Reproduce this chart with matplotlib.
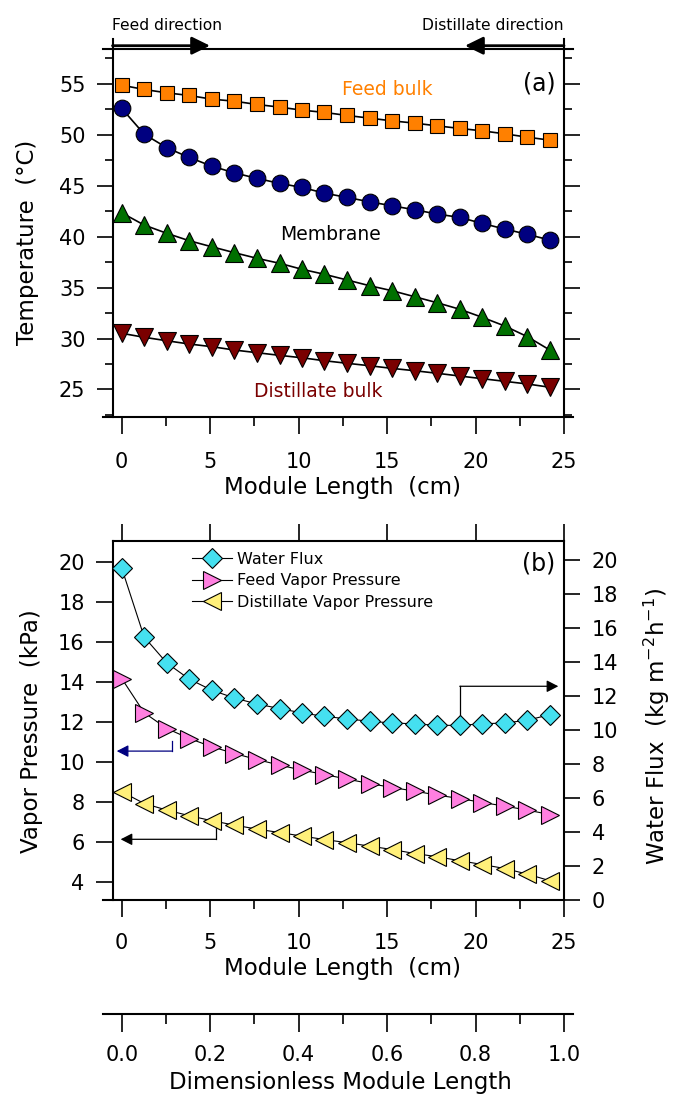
import matplotlib
matplotlib.use("Agg")
import matplotlib.pyplot as plt
from matplotlib.ticker import MultipleLocator, FormatStrFormatter
from matplotlib.lines import Line2D

W, H = 681, 1097

# module length positions (cm)
length_cm = [0.0, 1.27, 2.55, 3.82, 5.09, 6.37, 7.64, 8.92, 10.19, 11.46,
             12.74, 14.01, 15.28, 16.56, 17.83, 19.11, 20.38, 21.65, 22.93, 24.20]

# (a) temperature profiles (deg C)
t_feed_bulk = [54.85, 54.43, 54.10, 53.84, 53.48, 53.28, 52.96, 52.70, 52.40, 52.18,
               51.88, 51.62, 51.35, 51.13, 50.86, 50.61, 50.37, 50.08, 49.75, 49.46]
t_membrane_feed = [52.57, 50.05, 48.71, 47.76, 46.91, 46.25, 45.71, 45.22, 44.82, 44.26,
                   43.84, 43.41, 43.02, 42.63, 42.21, 41.88, 41.29, 40.74, 40.22, 39.66]
t_membrane_dist = [42.33, 41.13, 40.32, 39.59, 39.00, 38.42, 37.87, 37.38, 36.79, 36.30,
                   35.74, 35.18, 34.69, 34.10, 33.51, 32.87, 32.08, 31.23, 30.18, 28.87]
t_dist_bulk = [30.51, 30.12, 29.78, 29.46, 29.20, 28.87, 28.61, 28.35, 28.11, 27.82,
               27.57, 27.33, 27.07, 26.84, 26.59, 26.32, 26.06, 25.80, 25.54, 25.22]

# (b) water flux (kg m-2 h-1) and vapor pressures (kPa)
water_flux = [19.51, 15.45, 13.92, 12.97, 12.32, 11.86, 11.51, 11.24, 10.98, 10.78,
              10.63, 10.49, 10.39, 10.34, 10.25, 10.25, 10.34, 10.39, 10.55, 10.88]
p_feed = [14.16, 12.45, 11.66, 11.16, 10.75, 10.41, 10.11, 9.83, 9.58, 9.36,
          9.13, 8.91, 8.71, 8.53, 8.33, 8.16, 7.96, 7.78, 7.58, 7.36]
p_dist = [8.50, 7.91, 7.58, 7.30, 7.05, 6.83, 6.63, 6.46, 6.28, 6.11,
          5.95, 5.78, 5.61, 5.41, 5.25, 5.05, 4.86, 4.66, 4.38, 4.05]

legend_labels = ["Water Flux", "Feed Vapor Pressure", "Distillate Vapor Pressure"]


def fx(px):
    return px / W


def fy(py):
    return 1 - py / H


XLIM = (-1.057, 25.51)
XLEFT, XRIGHT = -0.52, 25.0
SPW = 1.5
TICKFS = 15
LABFS = 16.5

plt.rcParams['font.family'] = ['DejaVu Sans']
fig = plt.figure(figsize=(W / 100, H / 100), dpi=100)

# ---------------- panel (a) ----------------
ax_a = fig.add_axes([fx(103), fy(416.5), fx(470), 367.5 / H])
ax_a.plot(length_cm, t_feed_bulk, '-s', color='k', lw=1.2, ms=9.5,
          mfc='#ff8000', mec='k', mew=0.8)
ax_a.plot(length_cm, t_membrane_feed, '-o', color='k', lw=1.2, ms=12,
          mfc='#000080', mec='k', mew=0.8)
ax_a.plot(length_cm, t_membrane_dist, '-^', color='k', lw=1.2, ms=13,
          mfc='#007000', mec='k', mew=0.8)
ax_a.plot(length_cm, t_dist_bulk, '-v', color='k', lw=1.2, ms=13,
          mfc='#7a0000', mec='k', mew=0.8)
ax_a.set_xlim(*XLIM)
ax_a.set_ylim(22.35, 58.4)
ax_a.spines['left'].set_position(('data', XLEFT))
ax_a.spines['right'].set_position(('data', XRIGHT))
for s in ax_a.spines.values():
    s.set_linewidth(SPW)
ax_a.xaxis.set_major_locator(MultipleLocator(5))
ax_a.xaxis.set_minor_locator(MultipleLocator(2.5))
ax_a.yaxis.set_major_locator(MultipleLocator(5))
ax_a.yaxis.set_minor_locator(MultipleLocator(2.5))
ax_a.tick_params(axis='x', which='both', direction='out', top=False, width=1.2,
                 labelsize=TICKFS, pad=13.5)
ax_a.tick_params(axis='x', which='major', length=12)
ax_a.tick_params(axis='x', which='minor', length=6.5)
ax_a.tick_params(axis='y', which='both', direction='out', left=True, right=True,
                 labelright=False, width=1.2, labelsize=TICKFS, pad=8)
ax_a.tick_params(axis='y', which='major', length=11.5)
ax_a.tick_params(axis='y', which='minor', length=5.8)

fig.text(fx(387), fy(89.3), "Feed bulk", fontsize=13.5, color='#ff8000',
         ha='center', va='center')
fig.text(fx(330), fy(234), "Membrane", fontsize=13.5, color='k', ha='center', va='center')
fig.text(fx(318), fy(391.7), "Distillate bulk", fontsize=13.5, color='#7a0000',
         ha='center', va='center')
fig.text(fx(539), fy(84), "(a)", fontsize=17, ha='center', va='center')

# flow direction arrows above panel (a)
fig.text(fx(111.7), fy(30), "Feed direction", fontsize=11.2, ha='left', va='baseline')
fig.text(fx(563.3), fy(30), "Distillate direction", fontsize=11.2, ha='right', va='baseline')
for xb in (112.5, 564):
    fig.add_artist(Line2D([fx(xb), fx(xb)], [fy(39), fy(49)], transform=fig.transFigure,
                          color='k', lw=SPW))
big_head = '-|>,head_length=11,head_width=5.4'
ax_a.annotate("", xy=(fx(210), fy(45.7)), xytext=(fx(112.5), fy(45.7)),
              xycoords='figure fraction', textcoords='figure fraction',
              arrowprops=dict(arrowstyle=big_head, mutation_scale=1, lw=2, color='k',
                              shrinkA=0, shrinkB=0), annotation_clip=False)
ax_a.annotate("", xy=(fx(465), fy(45.7)), xytext=(fx(564), fy(45.7)),
              xycoords='figure fraction', textcoords='figure fraction',
              arrowprops=dict(arrowstyle=big_head, mutation_scale=1, lw=2, color='k',
                              shrinkA=0, shrinkB=0), annotation_clip=False)

# ---------------- panel (b) ----------------
ax_b = fig.add_axes([fx(103), fy(899.5), fx(470), 358.5 / H])
ax_f = ax_b.twinx()

l_pf, = ax_b.plot(length_cm, p_feed, '->', color='k', lw=0.8, ms=12.5,
                  mfc='#ff7fe0', mec='k', mew=0.8)
l_pd, = ax_b.plot(length_cm, p_dist, '-<', color='k', lw=0.8, ms=12.5,
                  mfc='#fff07a', mec='k', mew=0.8)
l_wf, = ax_f.plot(length_cm, water_flux, '-D', color='k', lw=0.8, ms=10.2,
                  mfc='#45e0f0', mec='k', mew=0.8)

ax_b.set_xlim(*XLIM)
ax_b.set_ylim(3.11, 21.035)
ax_f.set_ylim(0, 21.1)

ax_b.spines['left'].set_position(('data', XLEFT))
ax_b.spines['right'].set_visible(False)
ax_b.spines['top'].set_bounds(XLEFT, XRIGHT)
ax_b.spines['bottom'].set_bounds(XLIM[0], XRIGHT)
for s in ('left', 'top', 'bottom'):
    ax_f.spines[s].set_visible(False)
ax_f.spines['right'].set_position(('data', XRIGHT))
for a in (ax_b, ax_f):
    for s in a.spines.values():
        s.set_linewidth(SPW)

ax_b.xaxis.set_major_locator(MultipleLocator(5))
ax_b.xaxis.set_minor_locator(MultipleLocator(2.5))
ax_b.yaxis.set_major_locator(MultipleLocator(2))
ax_f.yaxis.set_major_locator(MultipleLocator(2))
ax_b.tick_params(axis='x', which='both', direction='out', top=True, bottom=True,
                 labeltop=False, width=1.2, labelsize=TICKFS, pad=11.5)
ax_b.tick_params(axis='x', which='major', length=12.5)
ax_b.tick_params(axis='x', which='minor', length=6.5, top=False)
ax_b.tick_params(axis='y', which='major', direction='out', length=12, width=1.2,
                 labelsize=TICKFS, pad=8)
ax_f.tick_params(axis='y', which='major', direction='out', length=11.5, width=1.2,
                 labelsize=TICKFS, pad=8.5)

# guide arrows
small_head = '-|>,head_length=7,head_width=3.6'
ax_f.plot([19.11, 19.11], [10.25, 12.55], color='k', lw=0.9, zorder=1)
ax_f.annotate("", xy=(24.68, 12.55), xytext=(19.11, 12.55),
              arrowprops=dict(arrowstyle=small_head, mutation_scale=1, lw=0.9, color='k',
                              shrinkA=0, shrinkB=0), annotation_clip=False)
ax_b.plot([2.83, 2.83], [11.05, 10.53], color='#000080', lw=0.9, zorder=1)
ax_b.annotate("", xy=(-0.28, 10.53), xytext=(2.83, 10.53),
              arrowprops=dict(arrowstyle=small_head, mutation_scale=1, lw=0.9,
                              color='#000080', shrinkA=0, shrinkB=0), annotation_clip=False)
ax_b.plot([5.33, 5.33], [7.0, 6.12], color='k', lw=0.9, zorder=1)
ax_b.annotate("", xy=(-0.06, 6.12), xytext=(5.33, 6.12),
              arrowprops=dict(arrowstyle=small_head, mutation_scale=1, lw=0.9, color='k',
                              shrinkA=0, shrinkB=0), annotation_clip=False)

ax_f.legend([l_wf, l_pf, l_pd], legend_labels, loc='upper left',
            bbox_to_anchor=(fx(192), fy(552)), bbox_transform=fig.transFigure,
            frameon=False, fontsize=11.5, handlelength=2.5, handletextpad=0.3,
            labelspacing=0.4, borderpad=0, borderaxespad=0, numpoints=1)
fig.text(fx(539), fy(563.3), "(b)", fontsize=17, ha='center', va='center')

# ---------------- dimensionless axis ----------------
ax_d = fig.add_axes([fx(103), fy(1014), fx(470), 0.0001])
ax_d.set_xlim(-0.0423, 1.0204)
ax_d.patch.set_visible(False)
for s in ('left', 'right', 'top'):
    ax_d.spines[s].set_visible(False)
ax_d.spines['bottom'].set_linewidth(SPW)
ax_d.yaxis.set_visible(False)
ax_d.xaxis.set_major_locator(MultipleLocator(0.2))
ax_d.xaxis.set_minor_locator(MultipleLocator(0.1))
ax_d.xaxis.set_major_formatter(FormatStrFormatter('%.1f'))
ax_d.tick_params(axis='x', which='both', direction='out', width=1.2, labelsize=TICKFS,
                 pad=9)
ax_d.tick_params(axis='x', which='major', length=13)
ax_d.tick_params(axis='x', which='minor', length=7)

# axis titles
fig.text(fx(28), fy(242.5), "Temperature  (°C)", fontsize=LABFS, rotation=90,
         ha='center', va='center')
fig.text(fx(342), fy(487), "Module Length  (cm)", fontsize=LABFS, ha='center', va='center')
fig.text(fx(31.7), fy(730.7), "Vapor Pressure  (kPa)", fontsize=LABFS, rotation=90,
         ha='center', va='center')
fig.text(fx(656.7), fy(726.7), "Water Flux  (kg m$^{-2}$h$^{-1}$)", fontsize=LABFS,
         rotation=90, ha='center', va='center')
fig.text(fx(342), fy(968), "Module Length  (cm)", fontsize=LABFS, ha='center', va='center')
fig.text(fx(340), fy(1083), "Dimensionless Module Length", fontsize=LABFS,
         ha='center', va='center')

fig.savefig("out.png", dpi=100)
